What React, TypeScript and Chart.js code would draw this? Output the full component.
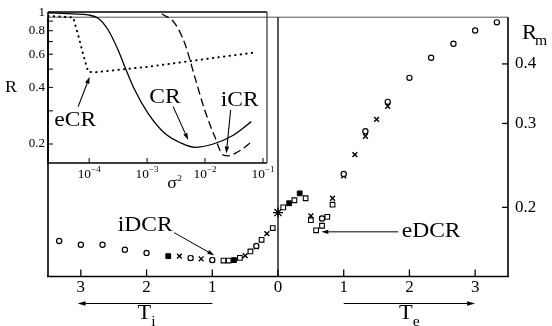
import React, { useEffect, useRef } from "react";
import { Chart, registerables } from "chart.js";

Chart.register(...registerables);

const SERIF = "'Liberation Serif', 'Times New Roman', serif";
const SX = 1.12; // horizontal stretch of hand-placed text, as in the reference

// ---------- main panel: R_m vs temperature (x<0 : T_i side, x>0 : T_e side)
const openCircleT = [-3.33, -3.0, -2.67, -2.33, -2.0, -1.33, -1.0, -0.33, 0.67, 1.0, 1.33, 1.67, 2.0, 2.33, 2.67, 3.0, 3.33];
const openCircleR = [0.170, 0.167, 0.167, 0.163, 0.1605, 0.1565, 0.155, 0.166, 0.1895, 0.235, 0.289, 0.333, 0.374, 0.412, 0.441, 0.470, 0.489];
const crossT = [-1.5, -1.33, -1.17, -1.0, -0.5, -0.33, -0.17, 0.5, 0.67, 0.83, 1.0, 1.17, 1.33, 1.5, 1.67];
const crossR = [0.158, 0.1565, 0.156, 0.155, 0.1584, 0.1653, 0.1761, 0.192, 0.1895, 0.209, 0.233, 0.258, 0.282, 0.306, 0.326];
const openSquareT = [-0.83, -0.75, -0.58, -0.42, -0.25, -0.08, 0.08, 0.25, 0.42, 0.5, 0.58, 0.67, 0.75, 0.83];
const openSquareR = [0.1547, 0.1547, 0.1567, 0.1616, 0.171, 0.181, 0.2, 0.207, 0.209, 0.188, 0.179, 0.183, 0.191, 0.2026];
const filledSquareT = [-1.67, -0.67, 0.17, 0.33];
const filledSquareR = [0.158, 0.155, 0.204, 0.214];
const starT = [0];
const starR = [0.195];

const mainXTicks = [-3, -2, -1, 0, 1, 2, 3];
const rmTicks = [0.2, 0.3, 0.4];
const mainXRange = [-3.5, 3.5];
const rmRange = [0.1432, 0.5013];

// ---------- inset: R vs sigma^2
const eCrSigma2 = [1.96e-5, 5.3e-5, 6.46e-5, 7.94e-5, 9.62e-5, 1.26e-4, 1.05e-3, 7.59e-3, 6.76e-2];
const eCrR = [0.958, 0.943, 0.76, 0.594, 0.484, 0.481, 0.515, 0.559, 0.611];
const crSigma2 = [1.96e-5, 5.3e-5, 9.62e-5, 1.43e-4, 2.13e-4, 3.16e-4, 4.13e-4, 6.14e-4, 1.04e-3, 2.02e-3, 3.9e-3, 6.64e-3, 1.38e-2, 3.02e-2, 6.3e-2];
const crR = [0.997, 0.982, 0.97, 0.931, 0.807, 0.632, 0.515, 0.387, 0.291, 0.228, 0.202, 0.192, 0.2, 0.222, 0.263];
const iCrSigma2 = [1.8e-3, 3.01e-3, 4.47e-3, 6.64e-3, 9.89e-3, 1.47e-2, 2.04e-2, 2.49e-2, 3.72e-2, 5.5e-2, 6.76e-2];
const iCrR = [0.985, 0.876, 0.686, 0.456, 0.303, 0.219, 0.175, 0.173, 0.182, 0.198, 0.21];

const insetXTicks = [1e-4, 1e-3, 1e-2, 1e-1];
const insetYTicks = [0.2, 0.3, 0.4, 0.5, 0.6, 0.7, 0.8, 0.9, 1];
const insetYLabelled = [0.2, 0.4, 0.6, 0.8, 1];
const insetXRange = [1.95e-5, 0.1175];
const insetYRange = [0.1585, 1.006];

// annotations (data coordinates)
const mainNotes = [
  { text: "iDCR", x: -2.02, y: 0.1836, from: [-1.58, 0.177], to: [-0.97, 0.1586] },
  { text: "eDCR", x: 2.33, y: 0.1777, from: [1.83, 0.1777], to: [0.66, 0.1777] },
];
const insetNotes = [
  { text: "eCR", x: 5.75e-5, y: 0.268, from: [6.46e-5, 0.316], to: [1.023e-4, 0.456] },
  { text: "CR", x: 2.04e-3, y: 0.355, from: [2.82e-3, 0.316], to: [5.13e-3, 0.21] },
  { text: "iCR", x: 3.98e-2, y: 0.339, from: [2.77e-2, 0.303], to: [2.33e-2, 0.178] },
];

const pts = (xs: number[], ys: number[]) => xs.map((x, i) => ({ x, y: ys[i] }));

function txt(ctx: any, s: string, x: number, y: number, size: number, align = "center", baseline = "middle") {
  ctx.save();
  ctx.font = `${size}px ${SERIF}`;
  ctx.textAlign = align;
  ctx.textBaseline = baseline;
  ctx.translate(x, y);
  ctx.scale(SX, 1);
  ctx.fillText(s, 0, 0);
  ctx.restore();
}
function width(ctx: any, s: string, size: number) {
  ctx.font = `${size}px ${SERIF}`;
  return ctx.measureText(s).width * SX;
}
function line(ctx: any, x1: number, y1: number, x2: number, y2: number) {
  ctx.beginPath();
  ctx.moveTo(x1, y1);
  ctx.lineTo(x2, y2);
  ctx.stroke();
}
function arrow(ctx: any, x1: number, y1: number, x2: number, y2: number, head = 7, half = 2.3) {
  const a = Math.atan2(y2 - y1, x2 - x1);
  const bx = x2 - head * Math.cos(a);
  const by = y2 - head * Math.sin(a);
  line(ctx, x1, y1, bx, by);
  ctx.beginPath();
  ctx.moveTo(x2, y2);
  ctx.lineTo(bx + half * Math.sin(a), by - half * Math.cos(a));
  ctx.lineTo(bx - half * Math.sin(a), by + half * Math.cos(a));
  ctx.closePath();
  ctx.fill();
}
// text with subscript / superscript, centred on cx, baseline y
function scripted(ctx: any, base: string, sc: string, cx: number, y: number, size: number, scSize: number, dy: number) {
  const w1 = width(ctx, base, size);
  const w2 = width(ctx, sc, scSize);
  const start = cx - (w1 + w2) / 2;
  txt(ctx, base, start, y, size, "left", "alphabetic");
  txt(ctx, sc, start + w1, y + dy, scSize, "left", "alphabetic");
}

const mainDecor = {
  id: "mainDecor",
  afterDraw(chart: any) {
    const { ctx, chartArea: a, scales } = chart;
    const x = scales.x;
    const y = scales.y;
    ctx.save();
    ctx.strokeStyle = "#000";
    ctx.fillStyle = "#000";
    // frame
    ctx.lineWidth = 1;
    ctx.strokeStyle = "#555";
    line(ctx, a.left, a.top, a.right, a.top);
    ctx.strokeStyle = "#000";
    ctx.lineWidth = 1.6;
    line(ctx, a.left, a.top, a.left, a.bottom);
    line(ctx, a.left - 1, a.bottom, a.right + 1, a.bottom);
    line(ctx, a.right, a.top, a.right, a.bottom);
    ctx.lineWidth = 1.3;
    const x0 = x.getPixelForValue(0);
    line(ctx, x0, a.top, x0, a.bottom);
    // inward ticks
    ctx.lineWidth = 1.3;
    mainXTicks.forEach((v) => {
      const px = x.getPixelForValue(v);
      line(ctx, px, a.bottom, px, a.bottom - 7);
    });
    rmTicks.forEach((v) => {
      const py = y.getPixelForValue(v);
      line(ctx, a.right, py, a.right - 6, py);
    });
    // axis title R_m
    txt(ctx, "R", a.right + 14, a.top + 22, 20, "left", "alphabetic");
    txt(ctx, "m", a.right + 27, a.top + 28, 14, "left", "alphabetic");
    // temperature arrows + titles
    ctx.lineWidth = 1.2;
    const ay = a.bottom + 27;
    arrow(ctx, x.getPixelForValue(-1), ay, x.getPixelForValue(-3.05), ay, 8, 2.2);
    arrow(ctx, x.getPixelForValue(1), ay, x.getPixelForValue(3.0), ay, 8, 2.2);
    scripted(ctx, "T", "i", x.getPixelForValue(-2), a.bottom + 42, 20, 14, 7);
    scripted(ctx, "T", "e", x.getPixelForValue(2), a.bottom + 42, 20, 14, 7);
    // notes
    ctx.lineWidth = 1;
    mainNotes.forEach((n) => {
      txt(ctx, n.text, x.getPixelForValue(n.x), y.getPixelForValue(n.y), 21);
      arrow(ctx, x.getPixelForValue(n.from[0]), y.getPixelForValue(n.from[1]), x.getPixelForValue(n.to[0]), y.getPixelForValue(n.to[1]), 7, 2.2);
    });
    ctx.restore();
  },
};

const insetDecor = {
  id: "insetDecor",
  afterDraw(chart: any) {
    const { ctx, chartArea: a, scales } = chart;
    const x = scales.x;
    const y = scales.y;
    ctx.save();
    ctx.strokeStyle = "#000";
    ctx.fillStyle = "#000";
    ctx.lineWidth = 1.5;
    line(ctx, a.left, a.top, a.right, a.top);
    line(ctx, a.left, a.top, a.left, a.bottom);
    line(ctx, a.left, a.bottom, a.right, a.bottom);
    ctx.lineWidth = 1.2;
    ctx.strokeStyle = "#333";
    line(ctx, a.right, a.top, a.right, a.bottom);
    ctx.strokeStyle = "#000";
    ctx.lineWidth = 1;
    insetXTicks.forEach((v) => {
      const px = x.getPixelForValue(v);
      if (px < a.right - 2) line(ctx, px, a.bottom, px, a.bottom - 5);
    });
    insetYTicks.forEach((v) => {
      const py = y.getPixelForValue(v);
      line(ctx, a.left, py, a.left + 5, py);
    });
    // x tick labels 10^n
    insetXTicks.forEach((v) => {
      const px = x.getPixelForValue(v);
      const e = Math.round(Math.log10(v));
      scripted(ctx, "10", "\u2212" + Math.abs(e), px, a.bottom + 15, 12, 8, -6);
    });
    // axis titles
    scripted(ctx, "\u03c3", "2", x.getPixelForValue(3.0e-3), a.bottom + 25, 16, 9, -7);
    txt(ctx, "R", 11, y.getPixelForValue(0.4), 16);
    // notes
    ctx.lineWidth = 1.1;
    insetNotes.forEach((n) => {
      txt(ctx, n.text, x.getPixelForValue(n.x), y.getPixelForValue(n.y), 21);
      arrow(ctx, x.getPixelForValue(n.from[0]), y.getPixelForValue(n.from[1]), x.getPixelForValue(n.to[0]), y.getPixelForValue(n.to[1]), 7, 2.2);
    });
    ctx.restore();
  },
};

function mainConfig(): any {
  const base = { borderColor: "#000", showLine: false };
  return {
    type: "scatter",
    data: {
      datasets: [
        { ...base, label: "open circles", data: pts(openCircleT, openCircleR), pointStyle: "circle", pointRadius: 2.6, pointBorderWidth: 1.2, pointBackgroundColor: "#fff", pointBorderColor: "#000" },
        { ...base, label: "crosses", data: pts(crossT, crossR), pointStyle: "crossRot", pointRadius: 3.4, pointBorderWidth: 1.4, pointBorderColor: "#000" },
        { ...base, label: "open squares", data: pts(openSquareT, openSquareR), pointStyle: "rect", pointRadius: 3.3, pointBorderWidth: 1.1, pointBackgroundColor: "#fff", pointBorderColor: "#000" },
        { ...base, label: "filled squares", data: pts(filledSquareT, filledSquareR), pointStyle: "rect", pointRadius: 3.4, pointBorderWidth: 1, pointBackgroundColor: "#000", pointBorderColor: "#000" },
        { ...base, label: "star", data: pts(starT, starR), pointStyle: "star", pointRadius: 5, pointBorderWidth: 1.3, pointBorderColor: "#000" },
      ],
    },
    options: {
      responsive: false,
      animation: false,
      devicePixelRatio: 1,
      layout: { padding: { left: 48, top: 12, right: 0, bottom: 0 } },
      plugins: { legend: { display: false }, tooltip: { enabled: false } },
      scales: {
        x: {
          type: "linear",
          position: "bottom",
          min: mainXRange[0],
          max: mainXRange[1],
          afterBuildTicks: (s: any) => { s.ticks = mainXTicks.map((v) => ({ value: v })); },
          afterFit: (s: any) => { s.height = 49.5; },
          ticks: { callback: (v: number) => String(Math.abs(v)), font: { family: SERIF, size: 17 }, color: "#000", padding: 1, maxRotation: 0, autoSkip: false },
          grid: { display: false, drawTicks: false },
          border: { display: false },
        },
        y: {
          type: "logarithmic",
          position: "right",
          min: rmRange[0],
          max: rmRange[1],
          afterBuildTicks: (s: any) => { s.ticks = rmTicks.map((v) => ({ value: v })); },
          afterFit: (s: any) => { s.width = 44; },
          ticks: { callback: (v: number) => String(v), font: { family: SERIF, size: 17 }, color: "#000", padding: 7, autoSkip: false },
          grid: { display: false, drawTicks: false },
          border: { display: false },
        },
      },
    },
    plugins: [mainDecor],
  };
}

function insetConfig(): any {
  const base = { borderColor: "#000", showLine: true, pointRadius: 0, fill: false };
  return {
    type: "scatter",
    data: {
      datasets: [
        { ...base, label: "eCR", data: pts(eCrSigma2, eCrR), borderWidth: 2, borderDash: [0.4, 5.2], borderCapStyle: "round", tension: 0 },
        { ...base, label: "CR", data: pts(crSigma2, crR), borderWidth: 1.3, cubicInterpolationMode: "monotone" },
        { ...base, label: "iCR", data: pts(iCrSigma2, iCrR), borderWidth: 1.3, borderDash: [8, 4], cubicInterpolationMode: "monotone" },
      ],
    },
    options: {
      responsive: false,
      animation: false,
      devicePixelRatio: 1,
      layout: { padding: { left: 0, top: 12, right: 13, bottom: 0 } },
      plugins: { legend: { display: false }, tooltip: { enabled: false } },
      scales: {
        x: {
          type: "logarithmic",
          min: insetXRange[0],
          max: insetXRange[1],
          afterBuildTicks: (s: any) => { s.ticks = insetXTicks.map((v) => ({ value: v })); },
          afterFit: (s: any) => { s.height = 37; },
          ticks: { display: false },
          grid: { display: false, drawTicks: false },
          border: { display: false },
        },
        y: {
          type: "logarithmic",
          min: insetYRange[0],
          max: insetYRange[1],
          afterBuildTicks: (s: any) => { s.ticks = insetYTicks.map((v) => ({ value: v })); },
          afterFit: (s: any) => { s.width = 48; },
          ticks: {
            callback: (v: number) => (insetYLabelled.includes(v) ? String(v) : ""),
            font: { family: SERIF, size: 13 },
            color: "#000",
            padding: 3,
            autoSkip: false,
          },
          grid: { display: false, drawTicks: false },
          border: { display: false },
        },
      },
    },
    plugins: [insetDecor],
  };
}

export default function App() {
  const mainRef = useRef<HTMLCanvasElement>(null);
  const insetRef = useRef<HTMLCanvasElement>(null);
  useEffect(() => {
    const main = new Chart(mainRef.current as HTMLCanvasElement, mainConfig());
    const inset = new Chart(insetRef.current as HTMLCanvasElement, insetConfig());
    return () => {
      main.destroy();
      inset.destroy();
    };
  }, []);
  return (
    <div style={{ position: "absolute", left: 0, top: 0, width: 552, height: 326, background: "#fff" }}>
      <canvas ref={mainRef} width={552} height={326} style={{ position: "absolute", left: 0, top: 0, width: 552, height: 326 }} />
      <canvas ref={insetRef} width={280} height={200} style={{ position: "absolute", left: 0, top: 0, width: 280, height: 200 }} />
    </div>
  );
}
